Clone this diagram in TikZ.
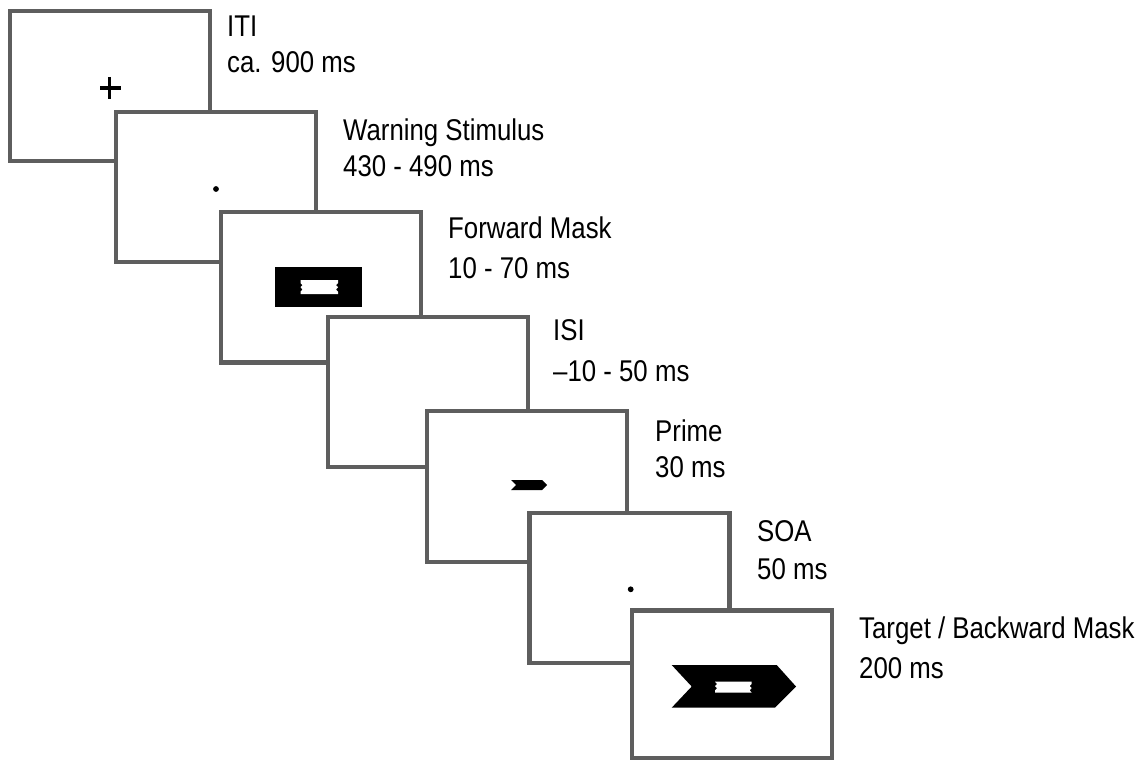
\documentclass[tikz,border=0pt]{standalone}
\usepackage{fontspec}
\setmainfont{Liberation Sans}[FakeStretch=0.86]
\definecolor{framegray}{HTML}{5E5E5E}
\tikzset{
  screen/.style={draw=framegray, line width=4.3pt, fill=white, line join=miter},
  lbl/.style={anchor=base west, inner sep=0pt, font=\fontsize{30}{32}\selectfont},
  stim/.style={fill=black, draw=none},
  hole/.style={fill=white, draw=none}
}
\begin{document}
\begin{tikzpicture}[x=1pt,y=-1pt]
\useasboundingbox[fill=white] (0,0) rectangle (1143,760);
% screen 1: ITI
\draw[screen] (10,11) rectangle (210,161);
\draw[black, line width=3.4pt] (100,88) -- (120.7,88);
\draw[black, line width=3.4pt] (109.7,77) -- (109.7,99);
% screen 2: warning
\draw[screen] (116,112) rectangle (316,262);
\fill[black] (216,189) circle (2.9);
% screen 3: forward mask
\draw[screen] (221,212) rectangle (421,362.5);
\fill[stim] (275,267) rectangle (361.5,306.5);
\fill[hole] (300.5,280) -- (338,280) -- (338,283) -- (336,285.2) -- (338,287.2) -- (336,289.6) -- (338,291.6) -- (338,294) -- (300.5,294) -- (300.5,291.6) -- (302.5,289.6) -- (300.5,287.2) -- (302.5,285.2) -- (300.5,283) -- cycle;
% screen 4: ISI
\draw[screen] (328,317) rectangle (528,467);
% screen 5: prime
\draw[screen] (427,411) rectangle (627,562);
\fill[stim] (511,480) -- (542,480) -- (547,485) -- (542,490) -- (511,490) -- (516,485) -- cycle;
% screen 6: SOA
\draw[screen] (529.5,513) rectangle (729.5,663);
\fill[black] (630.7,589.3) circle (2.9);
% screen 7: target
\draw[screen] (632,610.5) rectangle (832,758);
\fill[stim] (671.7,665) -- (776.7,665) -- (796,686.5) -- (775,707.7) -- (671.7,707.7) -- (691.7,686.5) -- cycle;
\fill[hole] (715,681.7) -- (751.7,681.7) -- (751.7,684) -- (749.7,686) -- (751.7,688) -- (749.7,690.2) -- (751.7,692.7) -- (715,692.7) -- (715,690.4) -- (717,688.2) -- (715,686.2) -- (717,684) -- cycle;
% labels
\node[lbl] (l1a) at (227,37) {ITI};
\node[lbl] (l1b) at (227,73) {ca. 900 ms};
\node[lbl] (l2a) at (343,140) {Warning Stimulus};
\node[lbl] (l2b) at (343,176) {430 - 490 ms};
\node[lbl] (l3a) at (448,238) {Forward Mask};
\node[lbl] (l3b) at (448,278) {10 - 70 ms};
\node[lbl] (l4a) at (553,340) {ISI};
\node[lbl] (l4b) at (553,381) {–10 - 50 ms};
\node[lbl] (l5a) at (655,441) {Prime};
\node[lbl] (l5b) at (655,477) {30 ms};
\node[lbl] (l6a) at (757,541) {SOA};
\node[lbl] (l6b) at (757,579) {50 ms};
\node[lbl] (l7a) at (859,638) {Target / Backward Mask};
\node[lbl] (l7b) at (859,678) {200 ms};
\end{tikzpicture}
\end{document}
